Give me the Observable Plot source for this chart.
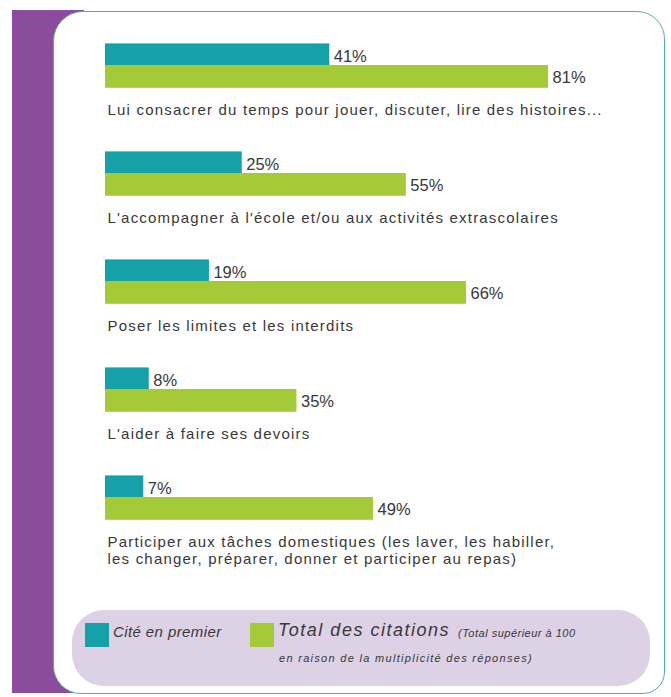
<!DOCTYPE html>
<html>
<head>
<meta charset="utf-8">
<script src="https://cdn.jsdelivr.net/npm/d3@7"></script>
<script src="https://cdn.jsdelivr.net/npm/@observablehq/plot@0.6"></script>
<style>
  html, body { margin: 0; padding: 0; background: #fff; }
  #wrap { position: relative; width: 671px; height: 697px; overflow: hidden; background: #fff;
          font-family: "Liberation Sans", Arial, Helvetica, sans-serif; color: #383838; }
  .purple { position: absolute; left: 12px; top: 10px; width: 72px; height: 683px; background: #8b4c9d; }
  .panel { position: absolute; left: 53px; top: 11px; width: 610px; height: 681px; background: #fff;
           border: 1.5px solid #5aaaa8; border-radius: 30px 28px 22px 28px; }
  .legend { position: absolute; left: 72px; top: 610px; width: 578px; height: 76px; background: #ddd1e6;
            border-radius: 32px; }
  .sq { position: absolute; width: 24px; height: 24px; }
  .lt { position: absolute; font-style: italic; white-space: nowrap; }
  #chart { position: absolute; left: 0; top: 0; }
  #chart svg { overflow: visible; background: transparent; }
</style>
</head>
<body>
<div id="wrap">
  <div class="purple"></div>
  <div class="panel"></div>
  <div class="legend"></div>
  <div id="legend-items"></div>
  <div id="chart"></div>
</div>
<script>
const categories = [
  "Lui consacrer du temps pour jouer, discuter, lire des histoires...",
  "L'accompagner à l'école et/ou aux activités extrascolaires",
  "Poser les limites et les interdits",
  "L'aider à faire ses devoirs",
  "Participer aux tâches domestiques (les laver, les habiller,\nles changer, préparer, donner et participer au repas)"
];
const premier = [41, 25, 19, 8, 7];
const total = [81, 55, 66, 35, 49];
const series = ["Cité en premier", "Total des citations"];
const seriesNote = ["", "(Total supérieur à 100\nen raison de la multiplicité des réponses)"];
const colors = ["#16a0a7", "#a5ca37"];

const rows = categories.flatMap((c, i) => [`${i}a`, `${i}b`, `${i}l`, `${i}s1`, `${i}s2`]);
const bars = categories.flatMap((c, i) => [
  {row: `${i}a`, value: premier[i], series: series[0]},
  {row: `${i}b`, value: total[i], series: series[1]}
]);
const labels = categories.map((c, i) => ({row: `${i}l`, text: c}));

const chart = Plot.plot({
  width: 671,
  height: 600,
  marginTop: 44,
  marginBottom: 16,
  marginLeft: 105,
  marginRight: 19,
  style: {background: "transparent", fontFamily: "'Liberation Sans', Arial, sans-serif", color: "#383838"},
  x: {domain: [0, 100], axis: null},
  y: {domain: rows, axis: null, padding: 0, round: false},
  color: {domain: series, range: colors},
  marks: [
    Plot.barX(bars, {x: "value", y: "row", fill: "series", insetTop: -0.6, insetBottom: -0.6}),
    Plot.text(bars, {x: "value", y: "row", text: d => `${d.value}%`, textAnchor: "start", dx: 4, dy: 1,
      fontSize: 16.5, fill: "#383838"}),
    Plot.text(labels, {x: 0, y: "row", text: "text", textAnchor: "start", lineAnchor: "top", dx: 2, dy: 4,
      fontSize: 15, lineHeight: 1.15, fill: "#383838", className: "cat-labels"})
  ]
});
chart.querySelectorAll("g[aria-label=text]").forEach((g, i) => { if (i === 1) g.setAttribute("letter-spacing", "1.2"); });
document.getElementById("chart").appendChild(chart);

// Legend
const li = document.getElementById("legend-items");
const sqX = [85, 250];
series.forEach((s, i) => {
  const sq = document.createElement("div");
  sq.className = "sq";
  sq.style.left = sqX[i] + "px";
  sq.style.top = "623px";
  sq.style.background = colors[i];
  li.appendChild(sq);
});
function addText(txt, left, top, size, spacing) {
  const t = document.createElement("div");
  t.className = "lt";
  t.style.left = left + "px"; t.style.top = top + "px"; t.style.fontSize = size + "px";
  t.style.letterSpacing = spacing + "px";
  t.textContent = txt;
  li.appendChild(t);
}
addText(series[0], 113, 623, 15, 0.4);
addText(series[1], 278, 620, 18, 1.5);
const noteLines = seriesNote[1].split("\n");
addText(noteLines[0], 458, 627, 11, 0.5);
addText(noteLines[1], 279, 652, 11, 1.3);
</script>
</body>
</html>
